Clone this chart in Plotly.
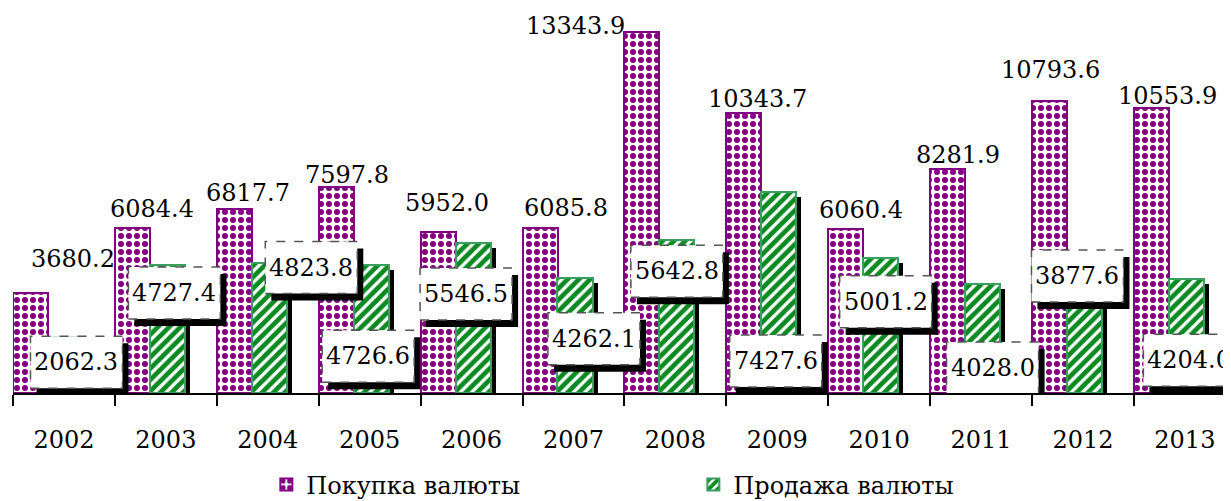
import plotly.graph_objects as go

# datos
anios = ["2002", "2003", "2004", "2005", "2006", "2007", "2008", "2009", "2010", "2011", "2012", "2013"]
compra = [3680.2, 6084.4, 6817.7, 7597.8, 5952.0, 6085.8, 13343.9, 10343.7, 6060.4, 8281.9, 10793.6, 10553.9]
venta = [2062.3, 4727.4, 4823.8, 4726.6, 5546.5, 4262.1, 5642.8, 7427.6, 5001.2, 4028.0, 3877.6, 4204.0]

# posiciones de etiquetas (pixeles respecto al tope de cada barra)
off_compra = [(42, 34), (20, 19), (14, 16), (11, 12), (9, 29), (26, 20),
              (-66, 6), (14, 14), (15, 19), (10, 14), (1, 31), (16, 12)]
off_venta = [(11, 25), (7, 28), (42, 5), (-3, 91), (-7, 51), (19, 61),
             (0, 31), (-3, 169), (5, 44), (10, 84), (-7, -12), (3, 81)]

FONT = "DejaVu Serif"
FS = 24
PX_X = 101.9      # pixeles por categoria
PX_Y = 0.02705    # pixeles por unidad
c_pur = "#800080"
c_verde = "#0c8a22"

x_c = [i + 0.172 for i in range(len(anios))]
x_v = [i + 0.515 for i in range(len(anios))]

fig = go.Figure()

# sombra de las barras verdes
fig.add_trace(go.Bar(
    x=[x + 5 / PX_X for x in x_v], y=[v - 5 / PX_Y for v in venta], width=0.345,
    marker=dict(color="black", line=dict(width=0)), showlegend=False, hoverinfo="skip"))

fig.add_trace(go.Bar(
    x=x_c, y=compra, width=0.343, name="Покупка валюты", opacity=1,
    marker=dict(color="white", line=dict(color=c_pur, width=2),
                pattern=dict(shape=".", fgcolor=c_pur, bgcolor="white", fgopacity=1,
                             size=8, solidity=0.45))))

fig.add_trace(go.Bar(
    x=x_v, y=venta, width=0.345, name="Продажа валюты", opacity=1,
    marker=dict(color="white", line=dict(color="#3a9e5f", width=2),
                pattern=dict(shape="/", fgcolor=c_verde, bgcolor="white", fgopacity=1,
                             size=8, solidity=0.6))))

anots = []
shapes = []
for i in range(len(anios)):
    dx, dy = off_compra[i]
    anots.append(dict(x=x_c[i], y=compra[i], xref="x", yref="y", text=f"{compra[i]:.1f}",
                      showarrow=False, xshift=dx, yshift=dy, xanchor="center", yanchor="middle",
                      font=dict(family=FONT, size=FS, color="black")))
    dx, dy = off_venta[i]
    # sombra del recuadro
    shapes.append(dict(type="rect", xref="x", yref="y", xsizemode="pixel", ysizemode="pixel",
                       xanchor=x_v[i], yanchor=venta[i],
                       x0=dx - 46 + 6, x1=dx + 46 + 6, y0=-dy - 26 - 7, y1=-dy + 26 - 7,
                       fillcolor="black", line=dict(width=0)))
    shapes.append(dict(type="rect", xref="x", yref="y", xsizemode="pixel", ysizemode="pixel",
                       xanchor=x_v[i], yanchor=venta[i],
                       x0=dx - 46, x1=dx + 46, y0=-dy - 26, y1=-dy + 26,
                       fillcolor="white", line=dict(color="#555555", width=1.5, dash="dash")))
    anots.append(dict(x=x_v[i], y=venta[i], xref="x", yref="y", text=f"{venta[i]:.1f}",
                      showarrow=False, xshift=dx, yshift=-dy, xanchor="center", yanchor="middle",
                      font=dict(family=FONT, size=FS, color="black")))

# la pagina tiene 8px de margen, se compensa
fig.update_layout(
    width=1223, height=493,
    margin=dict(l=5, r=0, t=0, b=108, autoexpand=False),
    paper_bgcolor="white", plot_bgcolor="white",
    barmode="overlay", bargap=0,
    font=dict(family=FONT, size=FS, color="black"),
    annotations=anots, shapes=shapes,
    legend=dict(orientation="h", x=0.208, y=-0.18, xanchor="left", yanchor="top",
                entrywidth=382, entrywidthmode="pixels", font=dict(family=FONT, size=FS),
                bgcolor="rgba(0,0,0,0)"),
    xaxis=dict(range=[0, 1218 / PX_X], tickvals=[i + 0.5 for i in range(len(anios))], ticktext=anios,
               ticks="outside", ticklen=24, tickcolor="rgba(0,0,0,0)", showgrid=False, zeroline=False,
               showline=True, linecolor="black", linewidth=2,
               minor=dict(tickvals=list(range(len(anios))), ticks="outside", ticklen=11,
                          tickwidth=2, tickcolor="black"),
               tickfont=dict(family=FONT, size=FS)),
    yaxis=dict(range=[0, 385 / PX_Y], visible=False, showgrid=False, zeroline=False),
)

fig.write_html("out.html")
